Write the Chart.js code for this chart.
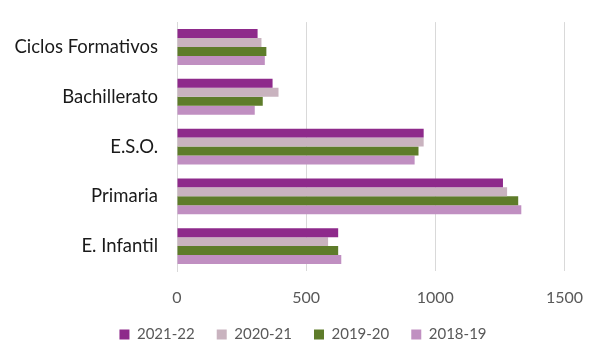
<!DOCTYPE html>
<html>
<head>
<meta charset="utf-8">
<script src="https://cdn.jsdelivr.net/npm/chart.js@4"></script>
<style>
  html, body { margin: 0; padding: 0; background: #fff; }
  #wrap { width: 600px; height: 360px; }
</style>
</head>
<body>
<div id="wrap"><canvas id="chart"></canvas></div>
<script>
const categories = ["Ciclos Formativos", "Bachillerato", "E.S.O.", "Primaria", "E. Infantil"];
const seriesNames = ["2021-22", "2020-21", "2019-20", "2018-19"];
const values2122 = [312, 370, 955, 1262, 624];
const values2021 = [327, 393, 955, 1278, 585];
const values1920 = [346, 332, 935, 1321, 624];
const values1819 = [340, 301, 920, 1333, 636];
const xTicks = [0, 500, 1000, 1500];
const colors = ["#8e2a8b", "#c9b3bf", "#5e7c2a", "#c08fc1"];

const allValues = [values2122, values2021, values1920, values1819];

// nudge the legend right so it sits centred like the original
const legendShift = {
  id: "legendShift",
  afterLayout(chart) {
    chart.legend.left += 18;
    chart.legend.right += 18;
  }
};

const chart = new Chart(document.getElementById("chart").getContext("2d"), {
  type: "bar",
  data: {
    labels: categories,
    datasets: seriesNames.map((name, i) => ({
      label: name,
      data: allValues[i],
      backgroundColor: colors[i],
      borderWidth: 0,
      categoryPercentage: 0.72,
      barPercentage: 1
    }))
  },
  options: {
    indexAxis: "y",
    responsive: true,
    maintainAspectRatio: false,
    animation: false,
    layout: { padding: { top: 18, right: 30, bottom: 8, left: 0 } },
    plugins: {
      tooltip: { enabled: false },
      legend: {
        position: "bottom",
        labels: {
          boxWidth: 10,
          boxHeight: 10,
          padding: 22,
          color: "#595959",
          font: { family: "Lato", size: 15 }
        }
      }
    },
    scales: {
      x: {
        min: 0,
        max: 1500,
        afterBuildTicks: (s) => { s.ticks = xTicks.map(v => ({ value: v })); },
        afterFit: (s) => { s.height = 34; },
        grid: { color: "#d9d9d9", drawTicks: false },
        border: { display: false },
        ticks: {
          color: "#595959",
          padding: 17,
          font: { family: "Lato", size: 16 },
          callback: (v) => String(v)
        }
      },
      y: {
        afterFit: (s) => { s.width = 177; },
        grid: { display: false },
        border: { display: true, color: "#d9d9d9" },
        ticks: { color: "#1a1a1a", padding: 11, font: { family: "Lato", size: 18.5 } }
      }
    }
  },
  plugins: [legendShift]
});
</script>
</body>
</html>
